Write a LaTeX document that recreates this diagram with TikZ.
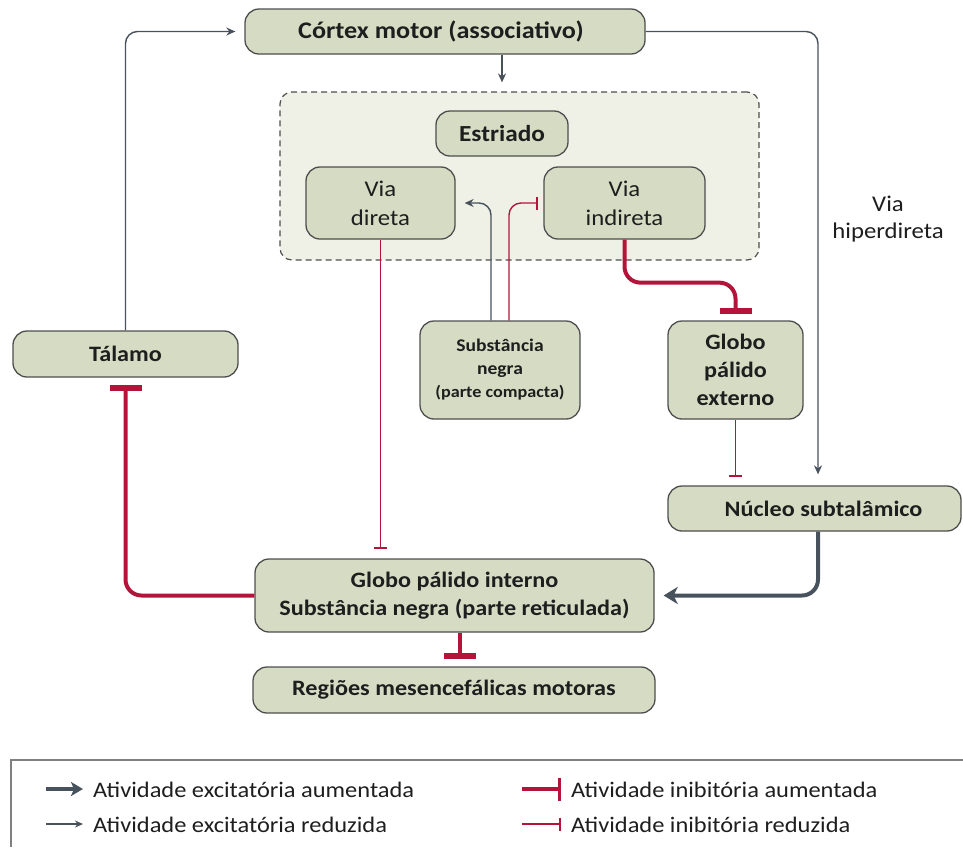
\documentclass[tikz,border=0pt]{standalone}
\usepackage{fontspec}
\setmainfont{Carlito}[FakeStretch=1.1]
\usetikzlibrary{arrows.meta}
\definecolor{boxfill}{RGB}{214,220,196}
\definecolor{boxdraw}{RGB}{78,78,78}
\definecolor{areafill}{RGB}{239,241,231}
\definecolor{exc}{RGB}{72,82,92}
\definecolor{inh}{RGB}{180,20,58}
\definecolor{txt}{RGB}{30,30,30}
\tikzset{
  box/.style={draw=boxdraw, fill=boxfill, line width=1.3pt, rounded corners=14pt,
    inner sep=0pt, align=center, text=txt, font=\fontsize{22}{28}\selectfont\bfseries},
  regbox/.style={box, font=\fontsize{22.5}{29}\selectfont},
  area/.style={draw=boxdraw, dashed, dash pattern=on 6pt off 4pt, fill=areafill,
    line width=1.2pt, rounded corners=12pt, inner sep=0pt},
  excthin/.style={draw=exc, line width=1.4pt, rounded corners=12pt,
    -{Stealth[length=9pt,width=8pt]}},
  excthick/.style={draw=exc, line width=4pt, rounded corners=16pt,
    -{Stealth[length=14pt,width=17pt,inset=4pt]}},
  inhthin/.style={draw=inh, line width=1.4pt, rounded corners=12pt,
    -{Bar[width=13pt,line width=2.6pt]}},
  inhthick/.style={draw=inh, line width=4pt, rounded corners=16pt,
    -{Bar[width=32pt,line width=6pt]}},
  legtext/.style={anchor=west, inner sep=0pt, text=txt, font=\fontsize{22.2}{26}\selectfont},
}
\begin{document}
\begin{tikzpicture}[x=1pt,y=-1pt]
\useasboundingbox (0,0) rectangle (963,847);
% dashed striatum area
\node[area, minimum width=479pt, minimum height=168pt] (area) at (519.5,176) {};
% boxes
\node[box, minimum width=400pt, minimum height=45pt, font=\fontsize{23.8}{28}\selectfont\bfseries] (cortex) at (445,31.5) {\hspace*{-8pt}Córtex motor (associativo)};
\node[box, minimum width=132pt, minimum height=45pt, font=\fontsize{23}{28}\selectfont\bfseries] (estriado) at (502,133.5) {Estriado};
\node[regbox, minimum width=149pt, minimum height=72pt] (vdir) at (380.5,203) {Via\\direta};
\node[regbox, minimum width=161pt, minimum height=72pt] (vind) at (624.5,203) {Via\\indireta};
\node[box, minimum width=225pt, minimum height=46pt] (talamo) at (125.5,354) {Tálamo};
\node[box, minimum width=160pt, minimum height=98pt, font=\fontsize{17.8}{23}\selectfont\bfseries] (snc) at (500,370)
  {Substância\\negra\\{\fontsize{16.5}{23}\selectfont(parte compacta)}};
\node[box, minimum width=135pt, minimum height=98pt] (gpe) at (735.5,370) {Globo\\pálido\\externo};
\node[box, minimum width=293pt, minimum height=45pt] (nst) at (814.5,508.5) {\hspace*{18pt}Núcleo subtalâmico};
\node[box, minimum width=399pt, minimum height=73pt] (gpi) at (454.5,595.5)
  {Globo pálido interno\\Substância negra (parte reticulada)};
\node[box, minimum width=402pt, minimum height=46pt] (reg) at (454,690) {Regiões mesencefálicas motoras};
\node[anchor=center, align=center, inner sep=0pt, text=txt, font=\fontsize{22.5}{27}\selectfont] (hiper) at (888,219) {Via\\hiperdireta};
% helper coordinates
\coordinate (hd) at (818,0);
\coordinate (snx) at (491,0);
\coordinate (srx) at (509,0);
\coordinate (rgx) at (460,0);
% connectors
\draw[excthin, shorten >=9pt] (talamo.north) |- (cortex.west);
\draw[excthin, shorten >=11pt] (cortex.east) -| (nst.north -| hd);
\draw[excthin, shorten >=9pt] (cortex.south -| estriado.south) -- (area.north -| estriado.south);
\draw[excthin] (snc.north -| snx) |- ([xshift=9pt]vdir.east);
\draw[inhthin] (snc.north -| srx) |- ([xshift=-5pt]vind.west);
\draw[inhthin, shorten >=9pt] (vdir.south) -- (vdir.south |- gpi.north);
\draw[inhthick, shorten >=6pt] (vind.south) -- ++(0,43) -| (gpe.north);
\draw[inhthin, shorten >=8pt] (gpe.south) -- (gpe.south |- nst.north);
\draw[excthick, shorten >=9pt] (nst.south -| hd) |- (gpi.east);
\draw[inhthick, shorten >=7pt] (gpi.west) -| (talamo.south);
\draw[inhthick, shorten >=7pt] (gpi.south -| rgx) -- (reg.north -| rgx);
% legend
\coordinate (lgA) at (11,847);
\coordinate (lgB) at (11,760);
\coordinate (lgC) at (963,760);
\draw[draw=gray, line width=2pt] (lgA) -- (lgB) -- (lgC);
\coordinate (a1) at (46,789); \coordinate (b1) at (83,789);
\coordinate (a2) at (46,824); \coordinate (b2) at (83,824);
\coordinate (a3) at (522,789); \coordinate (b3) at (561,789);
\coordinate (a4) at (522,824); \coordinate (b4) at (561,824);
\draw[draw=exc, line width=3.5pt, -{Stealth[length=12pt,width=14pt,inset=3pt]}] (a1) -- (b1);
\draw[draw=exc, line width=1.6pt, -{Stealth[length=8pt,width=7pt]}] (a2) -- (b2);
\draw[draw=inh, line width=3.5pt, -{Bar[width=23pt,line width=3pt]}] (a3) -- (b3);
\draw[draw=inh, line width=1.6pt, -{Bar[width=13pt,line width=2pt]}] (a4) -- (b4);
\node[legtext] (t1) at (93,790) {Atividade excitatória aumentada};
\node[legtext] (t2) at (93,825) {Atividade excitatória reduzida};
\node[legtext] (t3) at (571,790) {Atividade inibitória aumentada};
\node[legtext] (t4) at (571,825) {Atividade inibitória reduzida};
\end{tikzpicture}
\end{document}
